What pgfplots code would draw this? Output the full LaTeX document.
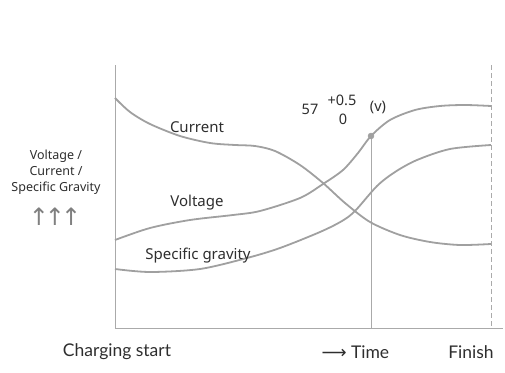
\documentclass[border=0pt]{standalone}
\usepackage{pgfplots}
\pgfplotsset{compat=1.18}
\usepackage{fontspec}
\setmainfont{Noto Sans}
\newfontfamily\latofont{Lato}
\newfontfamily\symfont{DejaVu Sans}
\definecolor{curve}{HTML}{A0A0A0}
\definecolor{axisgray}{HTML}{AAAAAA}
\definecolor{txt}{HTML}{2E2E2E}
\begin{document}
\begin{tikzpicture}
\begin{axis}[
  scale only axis, width=505bp, height=373bp,
  xmin=0, xmax=505, ymin=0, ymax=373, y dir=reverse,
  hide axis, clip=false,
]
% axes
\addplot[axisgray, line width=1bp] coordinates {(115,65) (115,328) (503,328)};
\addplot[axisgray, line width=1bp, dashed, dash pattern=on 5bp off 3bp] coordinates {(491,65) (491,328)};
\addplot[axisgray, line width=1bp] coordinates {(371,136) (371,328)};
% Current
\addplot[curve, line width=1.8bp, smooth, tension=0.5] coordinates {
 (115,98) (130,112) (150,124) (180,136) (210,143) (235,145) (255,146) (275,151) (300,165) (323,183) (345,203) (370,222) (400,235) (430,242) (460,245) (491,244)};
% Voltage
\addplot[curve, line width=1.8bp, smooth, tension=0.5] coordinates {
 (115,240) (150,228) (190,220) (233,215) (260,211) (300,198) (323,184) (343,170) (358,153) (371,136) (390,120) (415,110) (440,106) (465,105) (491,106)};
% Specific gravity
\addplot[curve, line width=1.8bp, smooth, tension=0.5] coordinates {
 (115,269) (150,272) (200,269) (247,258) (280,248) (320,232) (342,221) (355,211) (377,186) (395,172) (417,160) (450,149) (491,145)};
\addplot[only marks, mark=*, mark size=3bp, curve] coordinates {(371,136)};
% labels
\node[txt, font=\fontsize{15bp}{17bp}\selectfont] at (axis cs:197,127) {Current};
\node[txt, font=\fontsize{15bp}{17bp}\selectfont] at (axis cs:197,203) {Voltage};
\node[txt, font=\fontsize{15bp}{17bp}\selectfont] at (axis cs:198,256) {Specific gravity};
\node[txt, font=\fontsize{14.5bp}{16bp}\selectfont] at (axis cs:310,109) {57};
\node[txt, font=\fontsize{14.5bp}{16bp}\selectfont] at (axis cs:342,100) {+0.5};
\node[txt, font=\fontsize{14.5bp}{16bp}\selectfont] at (axis cs:343,119) {0};
\node[txt, font=\fontsize{14.5bp}{16bp}\selectfont] at (axis cs:378,107) {(v)};
\node[txt, align=center, font=\fontsize{12.5bp}{16bp}\selectfont] at (axis cs:56,172) {Voltage /\\Current /\\Specific Gravity};
\node[gray, font=\symfont\fontsize{24bp}{24bp}\selectfont, inner sep=0pt] at (axis cs:55,217) {↑\hspace{-4bp}↑\hspace{-4bp}↑};
\node[txt, font=\latofont\fontsize{17.5bp}{19bp}\selectfont] at (axis cs:117,352) {Charging start};
\node[txt, font=\latofont\fontsize{17.5bp}{19bp}\selectfont, anchor=west] at (axis cs:318,352) {{\symfont ⟶} Time};
\node[txt, font=\latofont\fontsize{17.5bp}{19bp}\selectfont] at (axis cs:471,352) {Finish};
\end{axis}
\pgfresetboundingbox
\path[use as bounding box] (current axis.south west) rectangle (current axis.north east);
\end{tikzpicture}
\end{document}
